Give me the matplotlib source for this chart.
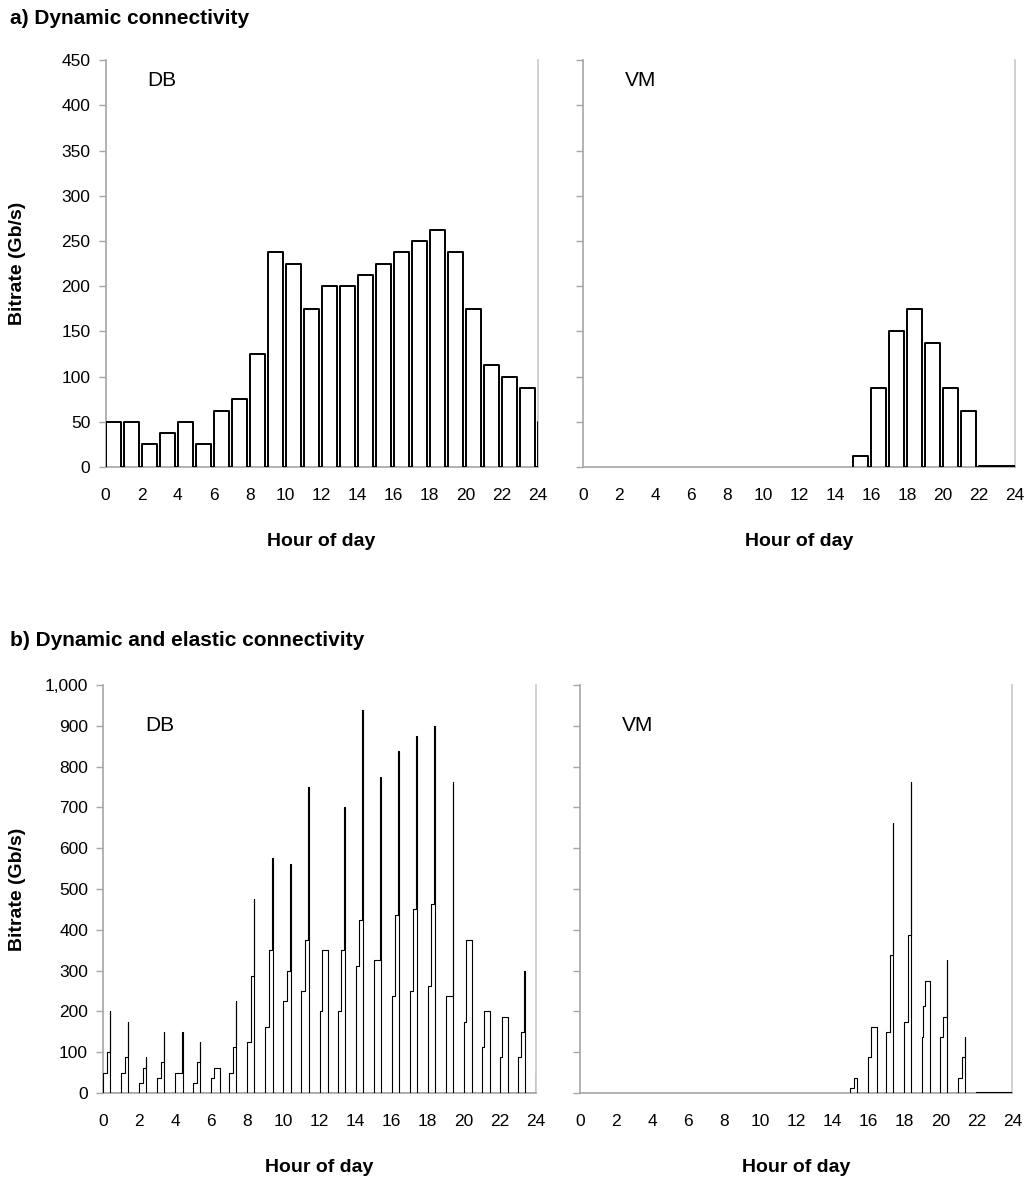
import matplotlib

matplotlib.use("Agg")
import matplotlib.pyplot as plt
from matplotlib.ticker import FuncFormatter, MultipleLocator

plt.rcParams["font.family"] = ["Liberation Sans", "DejaVu Sans"]

# hour 24 is the first hour of the next day, only its left edge shows
hours = list(range(25))

# a) dynamic connectivity: one bitrate per hour, held for 50 minutes
db_fixed = [50, 50, 25, 37.5, 50, 25, 62.5, 75, 125, 237.5, 225, 175, 200,
            200, 212.5, 225, 237.5, 250, 262.5, 237.5, 175, 112.5, 100, 87.5, 50]
vm_fixed = [None] * 15 + [12.5, 87.5, 150, 175, 137.5, 87.5, 62.5, 1, 1, 1]
db_fixed_minutes = [50] * 25
vm_fixed_minutes = [50] * 22 + [60, 60, 60]

# b) dynamic + elastic: rising levels inside each hour and their durations (min)
RAMP = [11, 11, 1.5]
RAMP2 = [23, 1.5]
FLAT = [9, 19]
FULL = [60]

db_elastic_levels = [
    [50, 100, 200], [50, 87.5, 175], [25, 62.5, 87.5], [37.5, 75, 150],
    [50, 150], [25, 75, 125], [37.5, 62.5], [50, 112.5, 225],
    [125, 287.5, 475], [162.5, 350, 575], [225, 300, 562.5], [250, 375, 750],
    [200, 350], [200, 350, 700], [312.5, 425, 937.5], [325, 775],
    [237.5, 437.5, 837.5], [250, 450, 875], [262.5, 462.5, 900], [237.5, 762.5],
    [175, 375], [112.5, 200], [87.5, 187.5], [87.5, 150, 300], [50, 100, 200],
]
db_elastic_minutes = [
    RAMP, RAMP, RAMP, RAMP, RAMP2, RAMP, FLAT, RAMP,
    RAMP, RAMP, RAMP, RAMP, FLAT, RAMP, RAMP, RAMP2,
    RAMP, RAMP, RAMP, RAMP2, FLAT, FLAT, FLAT, RAMP, RAMP,
]

vm_elastic_levels = [[]] * 15 + [
    [12.5, 37.5], [87.5, 162.5], [150, 337.5, 662.5], [175, 387.5, 762.5],
    [137.5, 212.5, 275], [137.5, 187.5, 325], [37.5, 87.5, 137.5], [2], [2], [2],
]
vm_elastic_minutes = [[]] * 15 + [
    [11, 10], FLAT, RAMP, RAMP, [3, 7, 15], [10, 11, 1.5], RAMP, FULL, FULL, FULL,
]


def step_trace(levels_per_hour, minutes_per_hour):
    """Build a step outline that drops back to zero after every hour block."""
    xs, ys = [], []
    for h, levels, mins in zip(hours, levels_per_hour, minutes_per_hour):
        if not levels:
            continue
        t = h
        xs.append(t)
        ys.append(0)
        for lv, m in zip(levels, mins):
            xs += [t, t + m / 60]
            ys += [lv, lv]
            t += m / 60
        xs.append(t)
        ys.append(0)
    return xs, ys


def style_axes(ax, ymax, ystep, show_labels, ylabel_x):
    ax.set_xlim(0, 24)
    ax.set_ylim(0, ymax)
    ax.xaxis.set_major_locator(MultipleLocator(2))
    ax.yaxis.set_major_locator(MultipleLocator(ystep))
    ax.yaxis.set_major_formatter(FuncFormatter(lambda v, p: f"{int(v):,}"))
    ax.tick_params(axis="x", length=0, pad=15, labelsize=12.5)
    ax.tick_params(axis="y", length=5, width=1, color="#a6a6a6", pad=6,
                   labelsize=12.5, labelleft=show_labels)
    ax.spines["top"].set_visible(False)
    for side in ("left", "bottom"):
        ax.spines[side].set_color("#a6a6a6")
        ax.spines[side].set_linewidth(1.2)
    ax.spines["right"].set_color("#c8c8c8")
    ax.spines["right"].set_linewidth(1.2)
    ax.set_xlabel("Hour of day", fontsize=14, fontweight="bold", labelpad=22)
    if show_labels:
        ax.set_ylabel("Bitrate (Gb/s)", fontsize=14, fontweight="bold")
        ax.yaxis.set_label_coords(ylabel_x, 0.5)


fig = plt.figure(figsize=(10.28, 11.80), dpi=100)

ax_a1 = fig.add_axes([0.1028, 0.6042, 0.4202, 0.3449])
ax_a2 = fig.add_axes([0.5671, 0.6042, 0.4202, 0.3449])
ax_b1 = fig.add_axes([0.1005, 0.0737, 0.4206, 0.3458])
ax_b2 = fig.add_axes([0.5642, 0.0737, 0.4206, 0.3458])

x, y = step_trace([[v] for v in db_fixed], [[m] for m in db_fixed_minutes])
ax_a1.plot(x, y, color="black", lw=1.4, zorder=3)
x, y = step_trace([[v] if v is not None else [] for v in vm_fixed],
                  [[m] for m in vm_fixed_minutes])
ax_a2.plot(x, y, color="black", lw=1.4, zorder=3)

x, y = step_trace(db_elastic_levels, db_elastic_minutes)
ax_b1.plot(x, y, color="black", lw=0.8, zorder=3)
x, y = step_trace(vm_elastic_levels, vm_elastic_minutes)
ax_b2.plot(x, y, color="black", lw=0.8, zorder=3)

style_axes(ax_a1, 450, 50, True, -0.184)
style_axes(ax_a2, 450, 50, False, 0)
style_axes(ax_b1, 1000, 100, True, -0.179)
style_axes(ax_b2, 1000, 100, False, 0)

for ax, name, ypos in ((ax_a1, "DB", 0.95), (ax_a2, "VM", 0.95),
                       (ax_b1, "DB", 0.9), (ax_b2, "VM", 0.9)):
    ax.text(0.097, ypos, name, transform=ax.transAxes, fontsize=15, va="center")

fig.text(0.01, 1 - 18 / 1180, "a) Dynamic connectivity", fontsize=15,
         fontweight="bold", va="center")
fig.text(0.01, 1 - 640 / 1180, "b) Dynamic and elastic connectivity", fontsize=15,
         fontweight="bold", va="center")

fig.savefig("out.png", dpi=100)
